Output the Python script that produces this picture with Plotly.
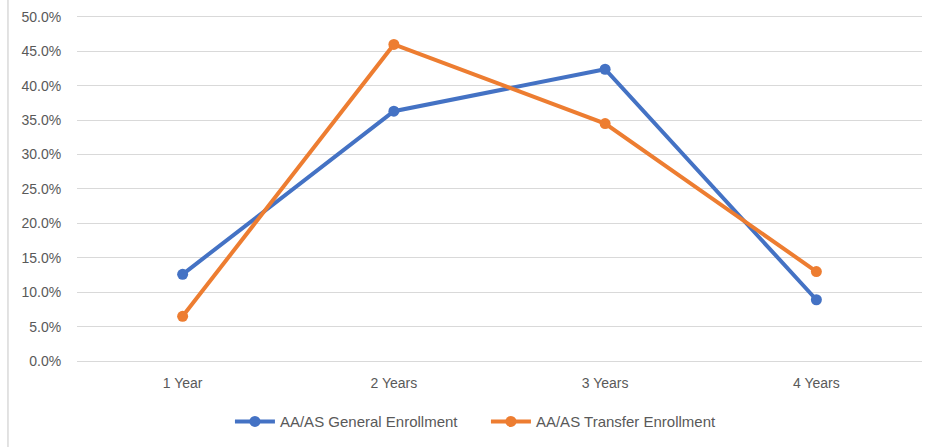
import plotly.graph_objects as go

# data
categories = ["1 Year", "2 Years", "3 Years", "4 Years"]
general_enrollment = [0.126, 0.363, 0.424, 0.089]
transfer_enrollment = [0.065, 0.460, 0.345, 0.130]
y_ticks = [0.0, 0.05, 0.10, 0.15, 0.20, 0.25, 0.30, 0.35, 0.40, 0.45, 0.50]

blue = "#4472C4"
orange = "#ED7D31"
font = dict(family="Liberation Sans, Arial, sans-serif", size=14, color="#595959")

fig = go.Figure()
fig.add_trace(go.Scatter(x=categories, y=general_enrollment, name="AA/AS General Enrollment",
                         mode="lines+markers", line=dict(color=blue, width=4),
                         marker=dict(color=blue, size=11)))
fig.add_trace(go.Scatter(x=categories, y=transfer_enrollment, name="AA/AS Transfer Enrollment",
                         mode="lines+markers", line=dict(color=orange, width=4),
                         marker=dict(color=orange, size=11)))

# top of range nudged past 50% so plotly still draws the 50% gridline
fig.update_layout(
    width=931, height=447,
    margin=dict(l=77, r=9, t=11, b=85),
    paper_bgcolor="white", plot_bgcolor="white",
    font=font,
    legend=dict(orientation="h", x=0.181, xanchor="left", y=-0.175, yanchor="middle",
                font=dict(family=font["family"], size=15, color="#595959"),
                itemwidth=40, entrywidth=201),
    xaxis=dict(range=[-0.5, 3.5], showgrid=False, zeroline=False, showline=False,
               ticks="outside", ticklen=9, tickcolor="rgba(0,0,0,0)"),
    yaxis=dict(range=[0, 0.5043], tickvals=y_ticks, tickformat=".1%", showgrid=True,
               gridcolor="#D9D9D9", gridwidth=1, zeroline=True, zerolinecolor="#D9D9D9",
               zerolinewidth=1, showline=False, ticks="outside", ticklen=12,
               tickcolor="rgba(0,0,0,0)"),
    shapes=[dict(type="line", xref="paper", yref="paper", x0=-0.0817, x1=-0.0817,
                 y0=-0.25, y1=1.05, line=dict(color="#D9D9D9", width=1.5))],
)

# drop the page's default body margin so the figure sits at the window's corner
fig.write_html("out.html", config={"displayModeBar": False},
               post_script="document.body.style.margin = '0';")
